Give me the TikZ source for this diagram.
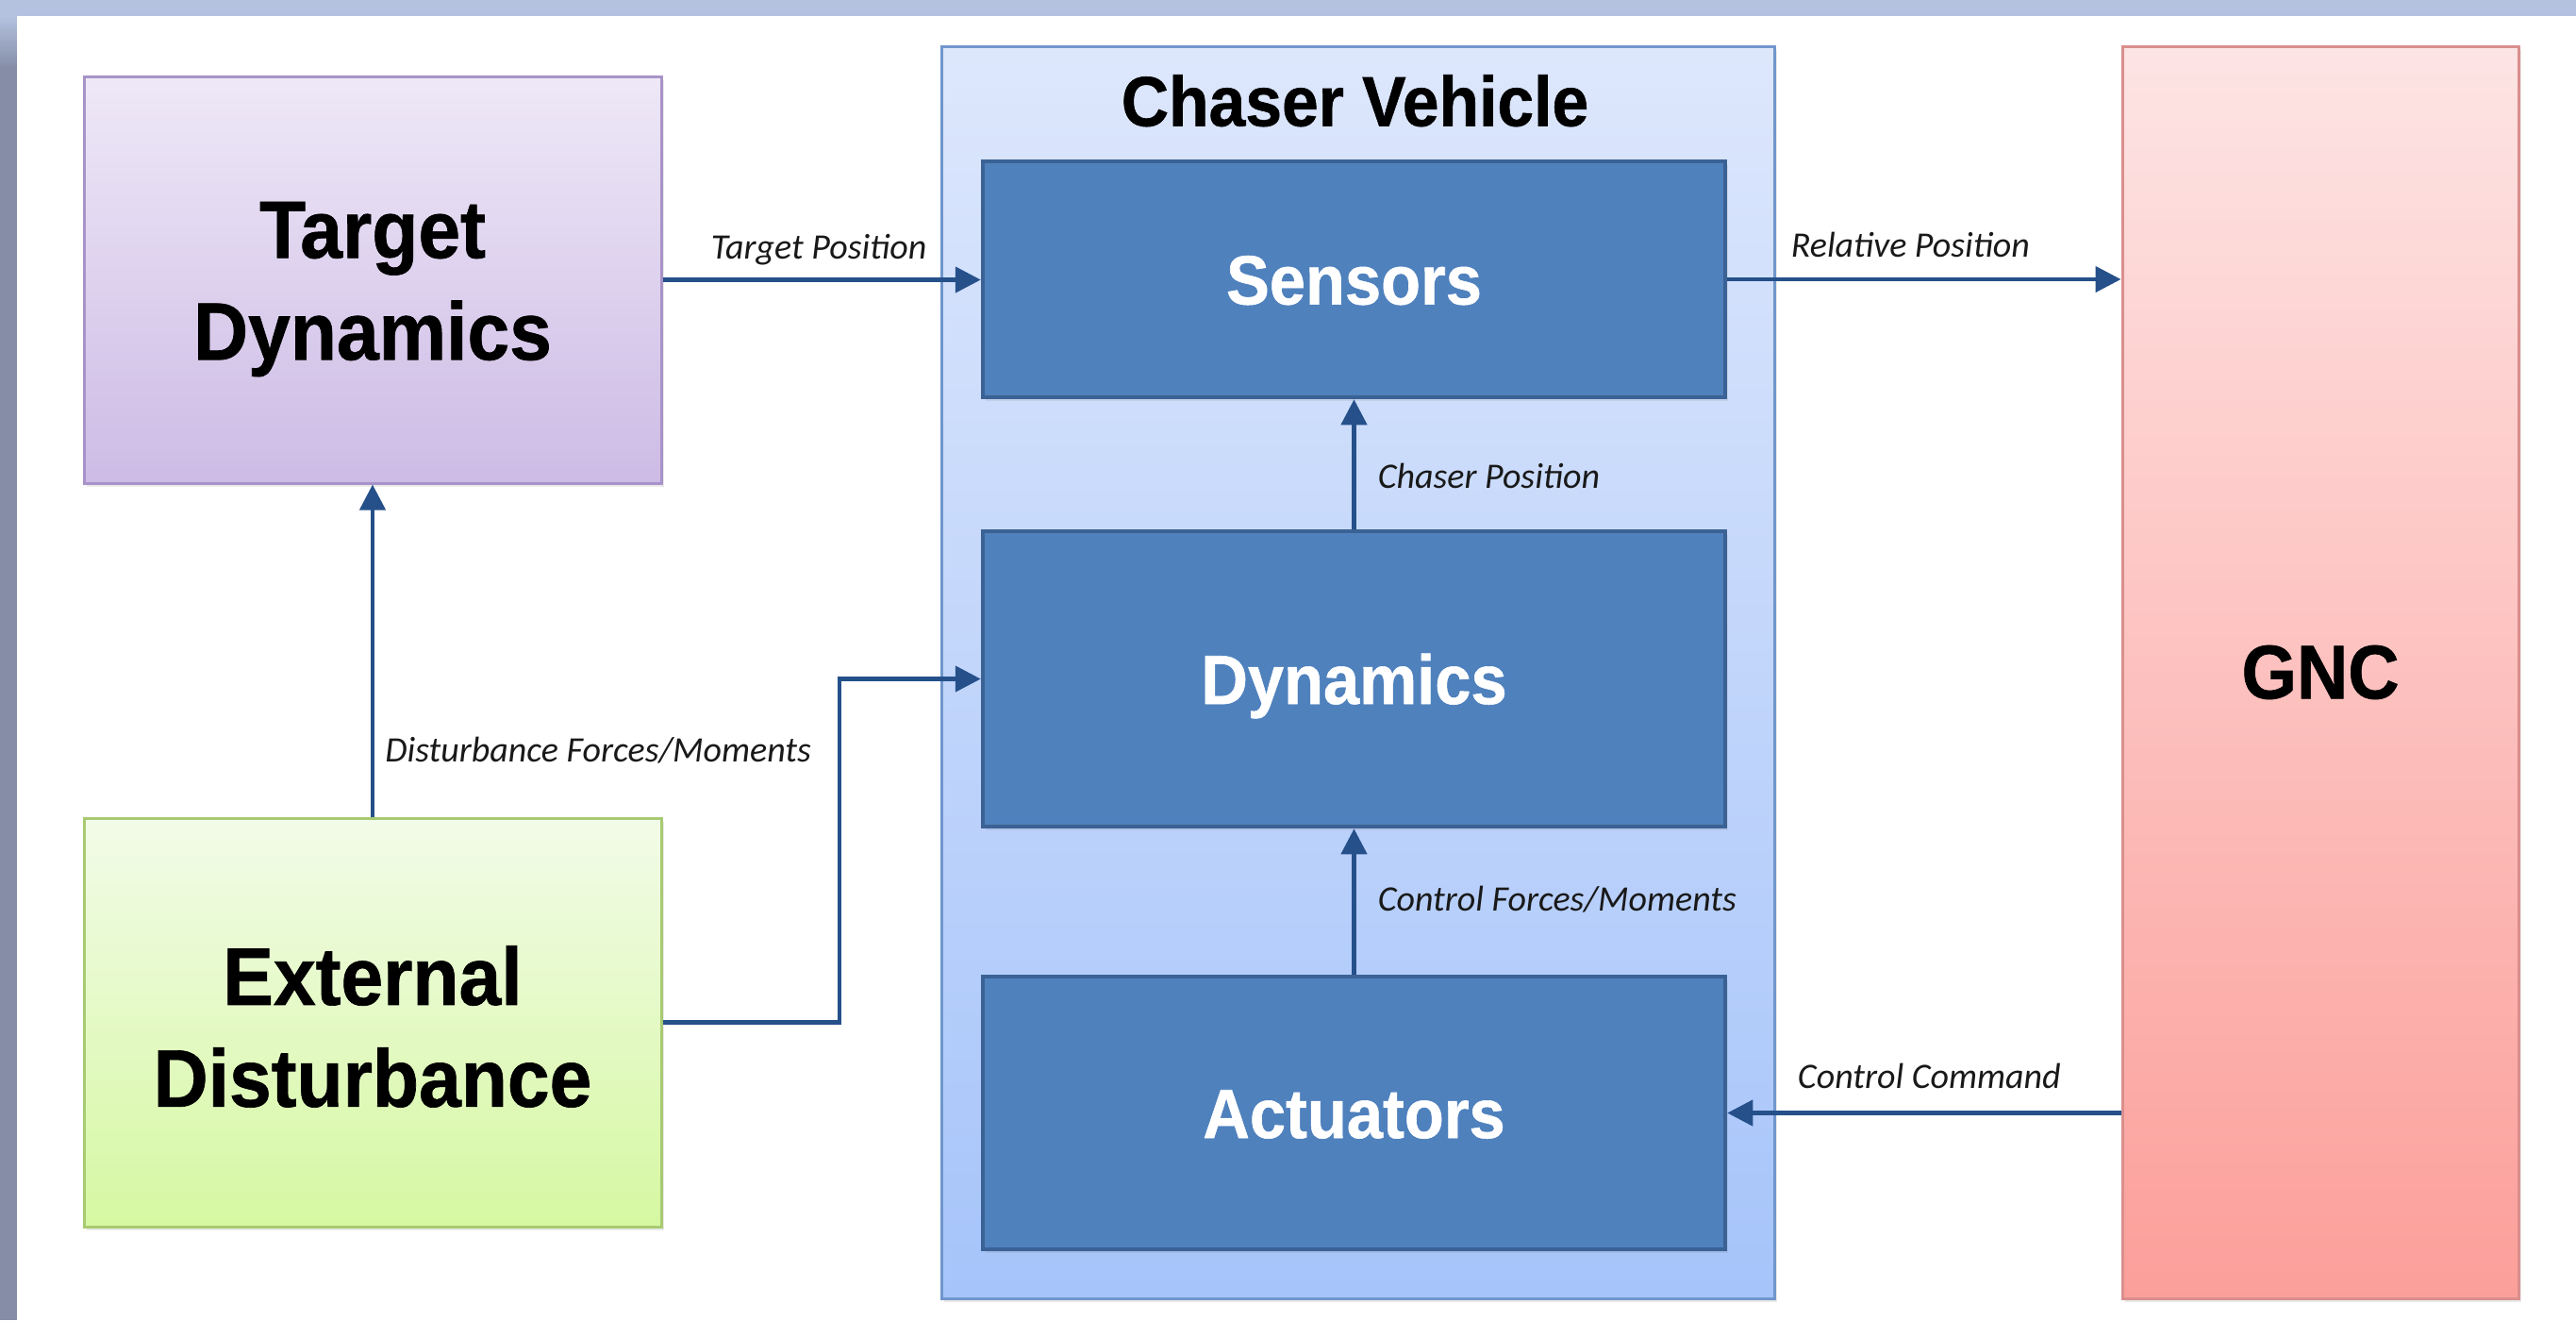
\documentclass[tikz,border=0pt]{standalone}
\usepackage{fontspec}
\setmainfont{Liberation Sans}
\newfontfamily\headfont[FakeStretch=0.93,FakeBold=0.8]{Liberation Sans}
\newfontfamily\lblfont{Carlito}
\usetikzlibrary{arrows.meta,shadows,calc}

\definecolor{framelight}{HTML}{B4C2E0}
\definecolor{framedark}{HTML}{858EA6}
\definecolor{arrowblue}{HTML}{25508A}
\definecolor{innerfill}{HTML}{4F81BD}
\definecolor{innerline}{HTML}{3B6295}
\definecolor{purpletop}{HTML}{EEE8F7}
\definecolor{purplebot}{HTML}{CDBBE5}
\definecolor{purpleline}{HTML}{A893C8}
\definecolor{greentop}{HTML}{F2FBE8}
\definecolor{greenbot}{HTML}{D6F8A2}
\definecolor{greenline}{HTML}{A8CA72}
\definecolor{redtop}{HTML}{FDE4E4}
\definecolor{redbot}{HTML}{FC9F9A}
\definecolor{redline}{HTML}{D98F8D}
\definecolor{bluetop}{HTML}{DDE7FC}
\definecolor{bluebot}{HTML}{A6C4FA}
\definecolor{blueline}{HTML}{7096CC}

\begin{document}
\begin{tikzpicture}[
  softshadow/.style={drop shadow={opacity=0.16,shadow xshift=0.03cm,shadow yshift=-0.04cm}},
  outerbox/.style={rectangle, line width=0.03cm, inner sep=0pt, softshadow},
  bigtext/.style={font=\headfont\bfseries\fontsize{24.6pt}{30.7pt}\selectfont, align=center, text=black, inner sep=0pt},
  titletext/.style={font=\headfont\bfseries\fontsize{21.3pt}{25pt}\selectfont, text=black, inner sep=0pt},
  innerbox/.style={rectangle, fill=innerfill, draw=innerline, line width=0.045cm,
    minimum width=7.87cm, inner sep=0pt, text=white,
    font=\headfont\bfseries\fontsize{21pt}{25pt}\selectfont,
    text height=15.1pt, text depth=0pt, softshadow},
  flow/.style={draw=arrowblue, line width=0.045cm, -{Triangle[length=0.27cm,width=0.27cm]}},
  lbl/.style={font=\lblfont\itshape\fontsize{10.8pt}{13pt}\selectfont, text=black!90, inner sep=0pt},
]
% page and window frame
\useasboundingbox (0,0) rectangle (27.31,-13.99);
\fill[white] (0,0) rectangle (27.31,-13.99);
\fill[framelight] (0,0) rectangle (27.31,-0.17);
\fill[framedark] (0,-0.17) rectangle (0.18,-13.99);
\shade[top color=framelight, bottom color=framedark] (0,-0.17) rectangle (0.18,-0.72);

% outer blocks
\node[outerbox, top color=purpletop, bottom color=purplebot, draw=purpleline,
      minimum width=6.12cm, minimum height=4.31cm] (target) at (3.95,-2.965) {};
\node[bigtext, yshift=-0.10cm] (target-text) at (target.center) {Target\\Dynamics};

\node[outerbox, top color=greentop, bottom color=greenbot, draw=greenline,
      minimum width=6.12cm, minimum height=4.33cm] (external) at (3.95,-10.835) {};
\node[bigtext, yshift=-0.045cm] (external-text) at (external.center) {External\\Disturbance};

\node[outerbox, top color=bluetop, bottom color=bluebot, draw=blueline,
      minimum width=8.83cm, minimum height=13.27cm] (chaser) at (14.395,-7.125) {};
\node[titletext, anchor=base] (chaser-title) at ($(chaser.north)+(-0.03,-0.86)$) {Chaser Vehicle};

\node[outerbox, top color=redtop, bottom color=redbot, draw=redline,
      minimum width=4.2cm, minimum height=13.27cm] (gnc) at (24.6,-7.125) {};
\node[bigtext, font=\headfont\bfseries\fontsize{23pt}{28pt}\selectfont] (gnc-text) at (gnc.center) {GNC};

% chaser subsystems
\node[innerbox, minimum height=2.5cm]  (sensors)   at (14.355,-2.96)   {Sensors};
\node[innerbox, minimum height=3.13cm] (dynamics)  at (14.355,-7.195)  {Dynamics};
\node[innerbox, minimum height=2.89cm] (actuators) at (14.355,-11.795) {Actuators};

% signal flow
\draw[flow] (target.east) --
  node[lbl, anchor=base, xshift=-0.03cm, yshift=0.22cm] (lbl-target) {Target Position}
  (target.east -| sensors.west);

\draw[flow] (sensors.east) --
  node[lbl, anchor=base, xshift=-0.145cm, yshift=0.24cm] (lbl-relative) {Relative Position}
  (sensors.east -| gnc.west);

\draw[flow] (dynamics.north) --
  node[lbl, anchor=base west, xshift=0.23cm, yshift=-0.25cm] (lbl-chaser) {Chaser Position}
  (sensors.south);

\draw[flow] (actuators.north) --
  node[lbl, anchor=base west, xshift=0.23cm, yshift=-0.095cm] (lbl-control) {Control Forces/Moments}
  (dynamics.south);

\draw[flow] (gnc.west |- actuators.east) --
  node[lbl, anchor=base, xshift=0.055cm, yshift=0.26cm] (lbl-command) {Control Command}
  (actuators.east);

\draw[flow] (external.north) --
  node[lbl, anchor=base west, xshift=0.11cm, yshift=-1.175cm] (lbl-disturb) {Disturbance Forces/Moments}
  (target.south);

\coordinate (elbow) at (8.90,-10.835);
\draw[flow] (external.east) -- (elbow) |- (dynamics.west);
\end{tikzpicture}
\end{document}
